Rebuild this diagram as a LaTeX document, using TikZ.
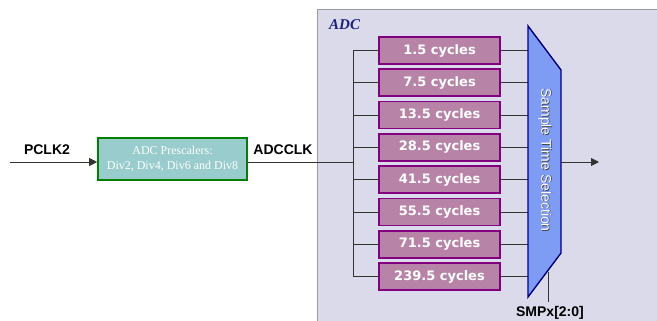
\documentclass[tikz,border=0pt]{standalone}
\usepackage{fontspec}
\usetikzlibrary{arrows.meta}
\setmainfont{Liberation Serif}
\newfontfamily\arialf{Liberation Sans}
\newfontfamily\verdf{DejaVu Sans}
\definecolor{panelfill}{HTML}{DADAEB}
\definecolor{panelline}{HTML}{9A9A9A}
\definecolor{cycfill}{HTML}{B784A7}
\definecolor{cycline}{HTML}{800080}
\definecolor{muxfill}{HTML}{7F9CF5}
\definecolor{muxline}{HTML}{00007F}
\definecolor{prefill}{HTML}{99CCCC}
\definecolor{preline}{HTML}{008000}
\definecolor{adcblue}{HTML}{1F1F7F}
\definecolor{wire}{HTML}{333333}
\begin{document}
\begin{tikzpicture}[x=1pt,y=-1pt,
  cycbox/.style={draw=cycline,line width=1.6pt,fill=cycfill,minimum width=121pt,minimum height=27pt,inner sep=0pt,
    text=white,font=\verdf\bfseries\fontsize{13}{15}\selectfont},
  wireline/.style={draw=wire,line width=0.9pt},
  bigtip/.style={-{Triangle[length=8pt,width=8pt]}},
  siglabel/.style={font=\arialf\bfseries\fontsize{14}{16}\selectfont,text=black,inner sep=0pt}]
\useasboundingbox (0,0) rectangle (657,321);
\fill[white] (0,0) rectangle (657,321);
% ADC panel
\draw[panelline,line width=1pt,fill=panelfill] (317,10) rectangle (662,330);
\node[font=\bfseries\itshape\fontsize{15}{17}\selectfont,text=adcblue,anchor=west,inner sep=0pt] (adclbl) at (329,25) {ADC};
% prescaler
\node[draw=preline,line width=1.6pt,fill=prefill,minimum width=149pt,minimum height=42pt,inner sep=0pt,
  text=white,align=center,font=\fontsize{12}{15}\selectfont] (presc) at (172.5,159) {ADC Prescalers:\\Div2, Div4, Div6 and Div8};
\coordinate (pin) at (10,162);
\draw[wireline,bigtip] (pin) -- (pin -| presc.west);
\node[siglabel] (pclk) at (47,150) {PCLK2};
\node[siglabel] (adcclk) at (283,150) {ADCCLK};
% cycle boxes
\foreach \i/\t in {0/1.5,1/7.5,2/13.5,3/28.5,4/41.5,5/55.5,6/71.5,7/239.5}{
  \node[cycbox] (c\i) at (439.5,50.5+32.3*\i) {\t\ cycles};
}
\coordinate (trunktop) at (353,50.5);
\coordinate (trunkbot) at (353,276.6);
\coordinate (trunkin) at (353,162);
\draw[wireline] (trunktop) -- (trunkbot);
\draw[wireline] (presc.east |- trunkin) -- (trunkin);
\foreach \i in {0,...,7}{
  \draw[wireline] (c\i.west -| trunktop) -- (c\i.west);
}
% mux
\coordinate (mtl) at (528,26);
\coordinate (mtr) at (561,70);
\coordinate (mbr) at (561,253);
\coordinate (mbl) at (528,297);
\foreach \i in {0,...,7}{
  \draw[wireline] (c\i.east) -- (c\i.east -| mtl);
}
\draw[muxline,line width=1.4pt,fill=muxfill,line join=miter] (mtl) -- (mtr) -- (mbr) -- (mbl) -- cycle;
\node[rotate=-90,font=\arialf\fontsize{14}{16}\selectfont,text=black!75,inner sep=0pt] (mlshadow) at (545.8,160.6) {Sample Time Selection};
\node[rotate=-90,font=\arialf\fontsize{14}{16}\selectfont,text=white,inner sep=0pt] (mlabel) at (545,160) {Sample Time Selection};
% output
\coordinate (mout) at (561,162);
\coordinate (outend) at (599,162);
\draw[wireline,bigtip] (mout) -- (outend);
% select
\coordinate (selbot) at (548,302);
\coordinate (seltop) at (548,272);
\draw[wireline,line width=1pt] (seltop) -- (selbot);
\node[siglabel] (smp) at (550,313) {SMPx[2:0]};
\end{tikzpicture}
\end{document}
